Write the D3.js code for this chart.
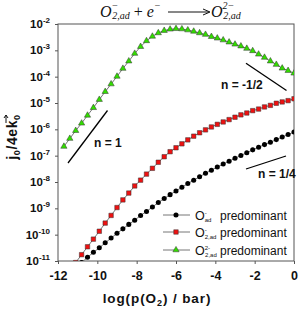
<!DOCTYPE html>
<html><head><meta charset="utf-8">
<script src="https://cdn.jsdelivr.net/npm/d3@7"></script>
<style>body{margin:0;background:#fff}svg{display:block}</style>
</head><body>
<svg id="c" width="300" height="310"></svg>
<script>
// x values (log p(O2)/bar)
const xGreen = [-11.7,-11.4,-11.1,-10.8,-10.5,-10.2,-9.9,-9.6,-9.3,-9.0,-8.7,-8.4,-8.1,-7.8,-7.5,-7.2,-6.9,-6.6,-6.3,-6.0,-5.7,-5.4,-5.1,-4.8,-4.5,-4.2,-3.9,-3.6,-3.3,-3.0,-2.7,-2.4,-2.1,-1.8,-1.5,-1.2,-0.9,-0.6,-0.3,0];
const logGreen = [-6.65,-6.35,-6.05,-5.77,-5.47,-5.18,-4.87,-4.57,-4.28,-3.99,-3.69,-3.41,-3.12,-2.86,-2.64,-2.47,-2.34,-2.25,-2.20,-2.18,-2.19,-2.23,-2.28,-2.34,-2.40,-2.48,-2.54,-2.61,-2.69,-2.77,-2.84,-2.93,-3.02,-3.15,-3.27,-3.41,-3.54,-3.68,-3.77,-3.87];
const xRed = [-11.1,-10.8,-10.5,-10.2,-9.9,-9.6,-9.3,-9.0,-8.7,-8.4,-8.1,-7.8,-7.5,-7.2,-6.9,-6.6,-6.3,-6.0,-5.7,-5.4,-5.1,-4.8,-4.5,-4.2,-3.9,-3.6,-3.3,-3.0,-2.7,-2.4,-2.1,-1.8,-1.5,-1.2,-0.9,-0.6,-0.3,0];
const logRed = [-11.06,-10.76,-10.46,-10.17,-9.87,-9.56,-9.27,-8.97,-8.68,-8.42,-8.15,-7.93,-7.70,-7.48,-7.25,-7.04,-6.85,-6.70,-6.55,-6.40,-6.26,-6.13,-6.02,-5.91,-5.81,-5.72,-5.63,-5.54,-5.45,-5.38,-5.29,-5.23,-5.15,-5.09,-5.01,-4.96,-4.91,-4.84];
const xBlack = [-10.8,-10.5,-10.2,-9.9,-9.6,-9.3,-9.0,-8.7,-8.4,-8.1,-7.8,-7.5,-7.2,-6.9,-6.6,-6.3,-6.0,-5.7,-5.4,-5.1,-4.8,-4.5,-4.2,-3.9,-3.6,-3.3,-3.0,-2.7,-2.4,-2.1,-1.8,-1.5,-1.2,-0.9,-0.6,-0.3,0];
const logBlack = [-11.06,-10.86,-10.67,-10.50,-10.31,-10.13,-9.95,-9.78,-9.61,-9.45,-9.27,-9.12,-8.95,-8.78,-8.63,-8.48,-8.34,-8.20,-8.06,-7.93,-7.80,-7.67,-7.55,-7.43,-7.32,-7.21,-7.10,-6.99,-6.89,-6.78,-6.68,-6.58,-6.49,-6.39,-6.29,-6.20,-6.10];
const xTicks = [-12,-10,-8,-6,-4,-2,0];
const yTickExps = [-2,-3,-4,-5,-6,-7,-8,-9,-10,-11];
const legendNames = ["predominant","predominant","predominant"];

const svg = d3.select("#c");
const L=58, R=294, T=24, B=261;
const x = d3.scaleLinear().domain([-12,0]).range([L,R]);
const y = d3.scaleLog().domain([1e-11,1e-2]).range([B,T]);

svg.append("clipPath").attr("id","clip").append("rect").attr("x",L).attr("y",T).attr("width",R-L).attr("height",B-T);

// frame
svg.append("rect").attr("x",L).attr("y",T).attr("width",R-L).attr("height",B-T)
  .attr("fill","none").attr("stroke","#555").attr("stroke-width",1);

// axes
const xAxis = svg.append("g").attr("transform",`translate(0,${B})`)
  .call(d3.axisBottom(x).tickValues(xTicks).tickSize(3).tickFormat(d=>d===0?"0":d3.format("d")(d).replace("−","-")));
xAxis.select(".domain").remove();
xAxis.selectAll("line").attr("stroke","#555");
xAxis.selectAll("text").attr("font-family","Arial, Liberation Sans").attr("font-weight","bold").attr("font-size",12.5).attr("fill","#111").attr("dy","1.0em");

const yAxis = svg.append("g").attr("transform",`translate(${L},0)`)
  .call(d3.axisLeft(y).tickValues(yTickExps.map(e=>Math.pow(10,e))).tickSize(3).tickFormat(""));
yAxis.select(".domain").remove();
yAxis.selectAll("line").attr("stroke","#555");
yTickExps.forEach(e=>{
  const t = svg.append("text").attr("x",L-8).attr("y",y(Math.pow(10,e))+4).attr("text-anchor","end")
    .attr("font-family","Arial, Liberation Sans").attr("font-weight","bold").attr("font-size",11.5).attr("fill","#111");
  t.append("tspan").text("10");
  t.append("tspan").attr("font-size",8).attr("dy",-5).text("-"+Math.abs(e));
});

// lines and markers
const g = svg.append("g").attr("clip-path","url(#clip)");
const line = d3.line().x(d=>x(d[0])).y(d=>y(Math.pow(10,d[1])));
function series(xs, ls){ return xs.map((v,i)=>[v, ls[i]]); }
const dBlack = series(xBlack, logBlack), dRed = series(xRed, logRed), dGreen = series(xGreen, logGreen);
[dBlack,dRed,dGreen].forEach(d=>g.append("path").datum(d).attr("d",line).attr("fill","none").attr("stroke","#777").attr("stroke-width",1));
const sym = {
  circle: d3.symbol().type(d3.symbolCircle).size(20),
  square: d3.symbol().type(d3.symbolSquare).size(20),
  tri: d3.symbol().type(d3.symbolTriangle).size(17)
};
g.selectAll(".pb").data(dBlack).join("path").attr("d",sym.circle)
  .attr("transform",d=>`translate(${x(d[0])},${y(Math.pow(10,d[1]))})`).attr("fill","#000");
g.selectAll(".pr").data(dRed).join("path").attr("d",sym.square)
  .attr("transform",d=>`translate(${x(d[0])},${y(Math.pow(10,d[1]))})`).attr("fill","#ee1111").attr("stroke","#333").attr("stroke-width",0.5);
g.selectAll(".pg").data(dGreen).join("path").attr("d",sym.tri)
  .attr("transform",d=>`translate(${x(d[0])},${y(Math.pow(10,d[1]))})`).attr("fill","#33dd00").attr("stroke","#333").attr("stroke-width",0.5);

// slope guide lines and labels
const guides = [
  {x1:68,y1:163,x2:107.5,y2:110.5,label:"n = 1",lx:94,ly:147},
  {x1:246,y1:63.3,x2:286.5,y2:90.5,label:"n = -1/2",lx:221,ly:89},
  {x1:246,y1:169,x2:286,y2:156,label:"n = 1/4",lx:258,ly:178}
];
guides.forEach(d=>{
  svg.append("line").attr("x1",d.x1).attr("y1",d.y1).attr("x2",d.x2).attr("y2",d.y2).attr("stroke","#000").attr("stroke-width",1.3);
  svg.append("text").attr("x",d.lx).attr("y",d.ly).attr("font-family","Arial, Liberation Sans").attr("font-weight","bold").attr("font-size",12).attr("fill","#111").text(d.label);
});

// legend
const legY = [215, 232, 250];
const legTypes = ["circle","square","tri"];
const legFill = ["#000","#ee1111","#33dd00"];
legY.forEach((ly,i)=>{
  svg.append("line").attr("x1",163).attr("x2",190).attr("y1",ly).attr("y2",ly).attr("stroke","#777");
  svg.append("path").attr("d",sym[legTypes[i]]).attr("transform",`translate(176,${ly})`).attr("fill",legFill[i]).attr("stroke",i?"#333":"none").attr("stroke-width",0.5);
  const t = svg.append("text").attr("x",195).attr("y",ly+4.5).attr("font-family","Arial, Liberation Sans").attr("font-size",12.5).attr("fill","#111");
  t.append("tspan").text("O");
  const supTxt = i===2 ? "2-" : "-";
  const subTxt = i===0 ? "ad" : "2,ad";
  t.append("tspan").attr("font-size",6).attr("dy",-5).text(supTxt);
  t.append("tspan").attr("font-size",6).attr("dy",7).attr("dx", i===2 ? -5 : -2).text(subTxt);
  svg.append("text").attr("x",220).attr("y",ly+4.5).attr("font-family","Arial, Liberation Sans").attr("font-size",12).attr("fill","#111").text(legendNames[i]);
});

// axis titles
const xt = svg.append("text").attr("x",157).attr("y",303).attr("text-anchor","middle")
  .attr("font-family","Arial, Liberation Sans").attr("font-weight","bold").attr("font-size",13.5).attr("letter-spacing",0.9).attr("fill","#111");
xt.append("tspan").text("log(p(O");
xt.append("tspan").attr("font-size",9).attr("dy",3).text("2");
xt.append("tspan").attr("dy",-3).text(") / bar)");

const yt = svg.append("text").attr("transform","translate(17,137) rotate(-90)").attr("text-anchor","middle")
  .attr("font-family","Arial, Liberation Sans").attr("font-weight","bold").attr("font-size",14).attr("letter-spacing",0.6).attr("fill","#111");
yt.append("tspan").text("j");
yt.append("tspan").attr("font-size",9).attr("dy",3).text("0");
yt.append("tspan").attr("dy",-3).text("/4ek");
yt.append("tspan").attr("font-size",9).attr("dy",3).text("0");
// arrow over k (vector)
const kArrow = svg.append("g").attr("transform","translate(17,137) rotate(-90)");
kArrow.append("line").attr("x1",14).attr("x2",22).attr("y1",-11).attr("y2",-11).attr("stroke","#111").attr("stroke-width",1);
kArrow.append("path").attr("d","M19,-13 L22,-11 L19,-9").attr("fill","none").attr("stroke","#111").attr("stroke-width",1);

// title equation
const tt = svg.append("text").attr("x",100).attr("y",17).attr("font-family","Liberation Serif, Times New Roman, serif").attr("font-style","italic").attr("font-size",16).attr("fill","#111");
tt.append("tspan").text("O");
tt.append("tspan").attr("font-size",10).attr("dy",-8).text("−");
tt.append("tspan").attr("font-size",10).attr("dy",10).attr("dx",-6).text("2,ad");
tt.append("tspan").attr("dy",-2).attr("font-style","normal").text(" + ");
tt.append("tspan").text("e");
tt.append("tspan").attr("font-size",10).attr("dy",-8).text("−");
const tt2 = svg.append("text").attr("x",211).attr("y",17).attr("font-family","Liberation Serif, Times New Roman, serif").attr("font-style","italic").attr("font-size",16).attr("fill","#111");
tt2.append("tspan").text("O");
tt2.append("tspan").attr("font-size",10).attr("dy",-8).text("2−");
tt2.append("tspan").attr("font-size",10).attr("dy",10).attr("dx",-11).text("2,ad");
svg.append("line").attr("x1",168).attr("x2",209).attr("y1",12).attr("y2",12).attr("stroke","#111").attr("stroke-width",1);
svg.append("path").attr("d","M203,9 L210,12 L203,15").attr("fill","none").attr("stroke","#111").attr("stroke-width",1);
</script>
</body></html>
